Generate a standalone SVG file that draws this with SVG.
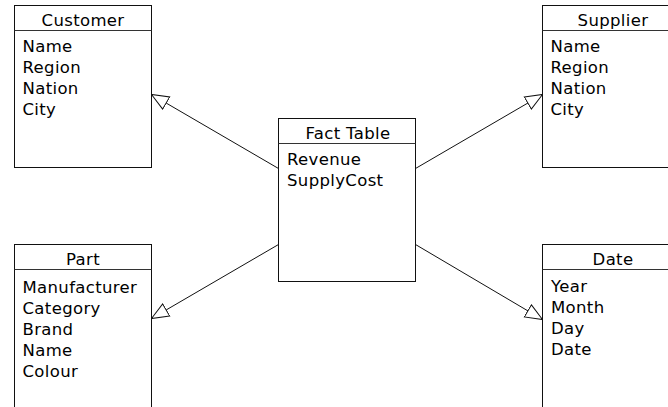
<svg xmlns="http://www.w3.org/2000/svg" width="668" height="407" viewBox="0 0 668 407">
<style>
.box{fill:#fff;stroke:#111;stroke-width:1}
.sep{stroke:#333;stroke-width:1}
text{font-family:"DejaVu Sans","Liberation Sans",sans-serif;font-size:16.5px;letter-spacing:0.35px;fill:#000}
.t{text-anchor:middle}
.c{stroke:#111;stroke-width:1;fill:none;marker-end:url(#tri)}
</style>
<defs>
<marker id="tri" viewBox="0 0 18 16" refX="17.5" refY="8" markerWidth="18" markerHeight="16" markerUnits="userSpaceOnUse" orient="auto">
<polygon points="0.5,1 17.5,8 0.5,15" fill="#fff" stroke="#111" stroke-width="1"/>
</marker>
</defs>
<rect width="668" height="407" fill="#fff"/>
<g id="connectors">
<line class="c" x1="278.5" y1="168.5" x2="151.5" y2="94.5"/>
<line class="c" x1="415.5" y1="168.5" x2="542.5" y2="94.5"/>
<line class="c" x1="278.5" y1="244.5" x2="151.5" y2="318.5"/>
<line class="c" x1="415.5" y1="244.5" x2="542.5" y2="319.5"/>
</g>
<g id="customer">
<rect class="box" x="14.5" y="5.5" width="137" height="162"/>
<line class="sep" x1="14.5" y1="30.5" x2="151.5" y2="30.5"/>
<text class="t" x="83" y="26">Customer</text>
<text x="22.5" y="52">Name</text>
<text x="22.5" y="73">Region</text>
<text x="22.5" y="94">Nation</text>
<text x="22.5" y="115">City</text>
</g>
<g id="supplier">
<rect class="box" x="542.5" y="5.5" width="142" height="162"/>
<line class="sep" x1="542.5" y1="30.5" x2="684.5" y2="30.5"/>
<text class="t" x="613" y="26">Supplier</text>
<text x="550.5" y="52">Name</text>
<text x="550.5" y="73">Region</text>
<text x="550.5" y="94">Nation</text>
<text x="550.5" y="115">City</text>
</g>
<g id="fact">
<rect class="box" x="278.5" y="118.5" width="137" height="163"/>
<line class="sep" x1="278.5" y1="143.5" x2="415.5" y2="143.5"/>
<text class="t" x="348" y="139">Fact Table</text>
<text x="287" y="165">Revenue</text>
<text x="287" y="186">SupplyCost</text>
</g>
<g id="part">
<rect class="box" x="14.5" y="244.5" width="137" height="170"/>
<line class="sep" x1="14.5" y1="269.5" x2="151.5" y2="269.5"/>
<text class="t" x="83" y="265">Part</text>
<text x="22.5" y="293">Manufacturer</text>
<text x="22.5" y="314">Category</text>
<text x="22.5" y="335">Brand</text>
<text x="22.5" y="356">Name</text>
<text x="22.5" y="377">Colour</text>
</g>
<g id="date">
<rect class="box" x="542.5" y="244.5" width="142" height="170"/>
<line class="sep" x1="542.5" y1="269.5" x2="684.5" y2="269.5"/>
<text class="t" x="613" y="265">Date</text>
<text x="551" y="292">Year</text>
<text x="551" y="313">Month</text>
<text x="551" y="334">Day</text>
<text x="551" y="355">Date</text>
</g>
</svg>
